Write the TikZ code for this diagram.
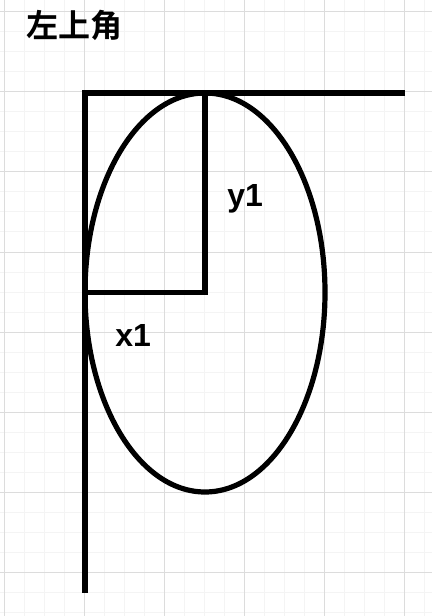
\documentclass[tikz,border=0pt]{standalone}
\usepackage{fontspec}
\setmainfont{Liberation Sans}
\newfontfamily\cjk{Noto Sans CJK SC}[BoldFont={Noto Sans CJK SC Bold}]
\begin{document}
\begin{tikzpicture}[x=0.75pt,y=-0.75pt,
  minorgrid/.style={draw={rgb,255:red,244;green,244;blue,244},line width=0.75pt},
  majorgrid/.style={draw={rgb,255:red,220;green,220;blue,220},line width=0.75pt},
  thick line/.style={draw=black,line width=3.9pt},
  label text/.style={inner sep=0pt,font=\fontsize{24pt}{28pt}\selectfont\bfseries}]
\useasboundingbox (0,0) rectangle (432,616);
\fill[white] (0,0) rectangle (432,616);
% grid
\foreach \i in {0,...,21} {\draw[minorgrid] ({4+20*\i},0) -- ({4+20*\i},616);}
\foreach \i in {0,...,30} {\draw[minorgrid] (0,{12+20*\i}) -- (432,{12+20*\i});}
\foreach \i in {0,...,5} {\draw[majorgrid] ({4+80*\i},0) -- ({4+80*\i},616);}
\foreach \i in {0,...,7} {\draw[majorgrid] (0,{12+80*\i}) -- (432,{12+80*\i});}
% shapes
\coordinate (tr) at (405,93);
\coordinate (tl) at (85,93);
\coordinate (bl) at (85,593);
\coordinate (c) at (205,292.5);
\coordinate (top) at (205,93);
\coordinate (mid) at (85,292.5);
\draw[thick line] (tr) -- (tl) -- (bl);
\draw[thick line] (c) ellipse [x radius=120, y radius=199.5];
\draw[thick line] (top) -- (c) -- (mid);
% texts
\node[label text,anchor=base west] (title) at (26,38) {\cjk\bfseries 左上角};
\node[label text,anchor=base west] (ylab) at (227,207) {y1};
\node[label text,anchor=base west] (xlab) at (115,346) {x1};
\end{tikzpicture}
\end{document}
